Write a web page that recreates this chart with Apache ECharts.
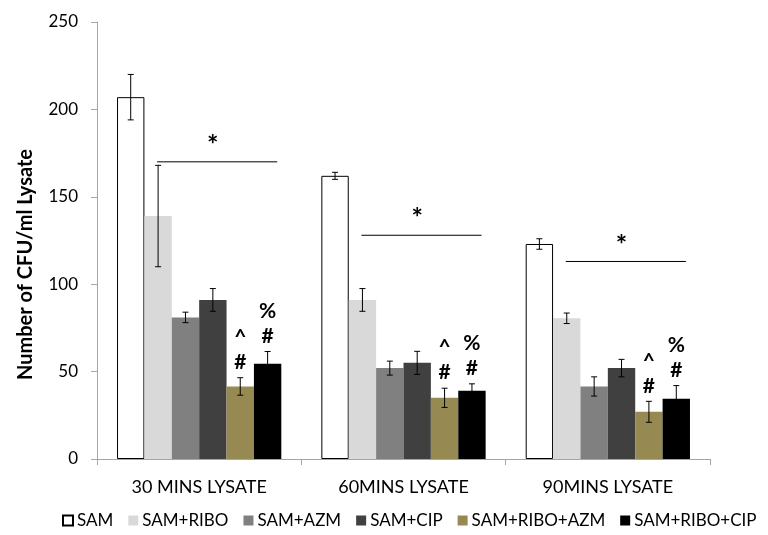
<!DOCTYPE html>
<html>
<head>
<meta charset="utf-8">
<script src="https://cdn.jsdelivr.net/npm/echarts@6/dist/echarts.min.js"></script>
<style>
  html, body { margin: 0; padding: 0; background: #fff; }
  #chart { width: 768px; height: 535px; }
</style>
</head>
<body>
<div id="chart"></div>
<script>
// Bacterial counts per lysate time point
const categories = ['30 MINS LYSATE', '60MINS LYSATE', '90MINS LYSATE'];
const seriesNames = ['SAM', 'SAM+RIBO', 'SAM+AZM', 'SAM+CIP', 'SAM+RIBO+AZM', 'SAM+RIBO+CIP'];

const samValues        = [207, 162, 123];
const samRiboValues    = [139, 91, 80.5];
const samAzmValues     = [81, 52, 41.5];
const samCipValues     = [91, 55, 52];
const samRiboAzmValues = [41.5, 35, 27];
const samRiboCipValues = [54.5, 39, 34.5];

// Standard error (half-length of each error bar)
const samErrors        = [13, 2, 3];
const samRiboErrors    = [29, 6.5, 3];
const samAzmErrors     = [3, 4, 5.5];
const samCipErrors     = [6.5, 6.6, 5];
const samRiboAzmErrors = [5, 5.5, 6];
const samRiboCipErrors = [7, 4, 7.5];

// Significance bracket heights and markers
const sigLineLevels = [170, 128, 113];
const sigStar = '*';
const riboAzmMark = '^\n#';
const riboCipMark = '%\n#';

const yTicks = { min: 0, max: 250, interval: 50 };

const allValues = [samValues, samRiboValues, samAzmValues, samCipValues, samRiboAzmValues, samRiboCipValues];
const allErrors = [samErrors, samRiboErrors, samAzmErrors, samCipErrors, samRiboAzmErrors, samRiboCipErrors];
const colors = ['#ffffff', '#d9d9d9', '#808080', '#404040', '#968a52', '#000000'];

const CAT_GAP = 0.196;
const FONT = 'Lato, "Open Sans", sans-serif';

function barCenter(api, cat, j) {
  const band = api.size([1, 0])[0];
  const groupW = band * (1 - CAT_GAP);
  const barW = groupW / seriesNames.length;
  const c = api.coord([cat, 0])[0];
  return { x: c - groupW / 2 + barW * (j + 0.5), w: barW };
}

const barSeries = seriesNames.map((name, j) => ({
  name,
  type: 'bar',
  data: allValues[j],
  barGap: '0%',
  barCategoryGap: (CAT_GAP * 100) + '%',
  itemStyle: j === 0
    ? { color: colors[j], borderColor: '#000', borderWidth: 1 }
    : { color: colors[j] },
  emphasis: { disabled: true },
  z: 2
}));

// Error bars
const errData = [];
allValues.forEach((vals, j) => vals.forEach((v, i) => errData.push([i, j, v, allErrors[j][i]])));

const errorSeries = {
  type: 'custom',
  name: 'errors',
  data: errData,
  z: 5,
  silent: true,
  renderItem: function (params, api) {
    const cat = api.value(0), j = api.value(1), v = api.value(2), e = api.value(3);
    const b = barCenter(api, cat, j);
    const yt = api.coord([cat, v + e])[1];
    const yb = api.coord([cat, v - e])[1];
    const cap = 3;
    const st = { stroke: '#000', lineWidth: 1 };
    return {
      type: 'group',
      children: [
        { type: 'line', shape: { x1: b.x, y1: yt, x2: b.x, y2: yb }, style: st },
        { type: 'line', shape: { x1: b.x - cap, y1: yt, x2: b.x + cap, y2: yt }, style: st },
        { type: 'line', shape: { x1: b.x - cap, y1: yb, x2: b.x + cap, y2: yb }, style: st }
      ]
    };
  }
};

// Significance brackets and markers
const annotData = categories.map((c, i) => [i, sigLineLevels[i],
  samRiboAzmValues[i] + samRiboAzmErrors[i],
  samRiboCipValues[i] + samRiboCipErrors[i]]);

const annotSeries = {
  type: 'custom',
  name: 'annotations',
  data: annotData,
  z: 6,
  silent: true,
  renderItem: function (params, api) {
    const cat = api.value(0);
    const yLine = api.coord([cat, api.value(1)])[1];
    const b1 = barCenter(api, cat, 1);
    const b3 = barCenter(api, cat, 3);
    const b4 = barCenter(api, cat, 4);
    const b5 = barCenter(api, cat, 5);
    const yAzm = api.coord([cat, api.value(2)])[1];
    const yCip = api.coord([cat, api.value(3)])[1];
    const markFont = 'bold 21px ' + FONT;
    return {
      type: 'group',
      children: [
        { type: 'line', shape: { x1: b1.x - 1, y1: yLine, x2: b5.x + b5.w * 0.35, y2: yLine },
          style: { stroke: '#000', lineWidth: 1 } },
        { type: 'text', style: { text: sigStar, x: b3.x, y: yLine - 3, align: 'center', verticalAlign: 'bottom',
            font: 'bold 27px ' + FONT, fill: '#000' } },
        { type: 'text', style: { text: riboAzmMark, x: b4.x, y: yAzm - 3, align: 'center', verticalAlign: 'bottom',
            font: markFont, lineHeight: 25, fill: '#000' } },
        { type: 'text', style: { text: riboCipMark, x: b5.x, y: yCip - 3, align: 'center', verticalAlign: 'bottom',
            font: markFont, lineHeight: 25, fill: '#000' } }
      ]
    };
  }
};

const chart = echarts.init(document.getElementById('chart'), null, { renderer: 'canvas' });
chart.setOption({
  animation: false,
  backgroundColor: '#ffffff',
  grid: { left: 97, right: 58, top: 22, bottom: 76 },
  legend: {
    data: seriesNames,
    bottom: 1,
    left: 57,
    icon: 'rect',
    itemWidth: 10,
    itemHeight: 10,
    itemGap: 15,
    textStyle: { fontFamily: FONT, fontSize: 17, color: '#000', padding: [0, 0, 0, -1] },
    selectedMode: false
  },
  xAxis: {
    type: 'category',
    data: categories,
    axisLine: { lineStyle: { color: '#a6a6a6', width: 1 } },
    axisTick: { show: true, length: 6, lineStyle: { color: '#a6a6a6' } },
    axisLabel: { fontFamily: FONT, fontSize: 18, color: '#000', margin: 19 },
    splitLine: { show: false }
  },
  yAxis: {
    type: 'value',
    min: yTicks.min,
    max: yTicks.max,
    interval: yTicks.interval,
    name: 'Number of CFU/ml Lysate',
    nameLocation: 'middle',
    nameGap: 61,
    nameTextStyle: { fontFamily: FONT, fontSize: 20, fontWeight: 'bold', color: '#000', padding: [0, 48, 0, 0] },
    axisLine: { show: true, lineStyle: { color: '#a6a6a6', width: 1 } },
    axisTick: { show: true, length: 6, lineStyle: { color: '#a6a6a6' } },
    axisLabel: { fontFamily: FONT, fontSize: 17, color: '#000', margin: 19 },
    splitLine: { show: false }
  },
  series: [...barSeries, errorSeries, annotSeries]
});
</script>
</body>
</html>
